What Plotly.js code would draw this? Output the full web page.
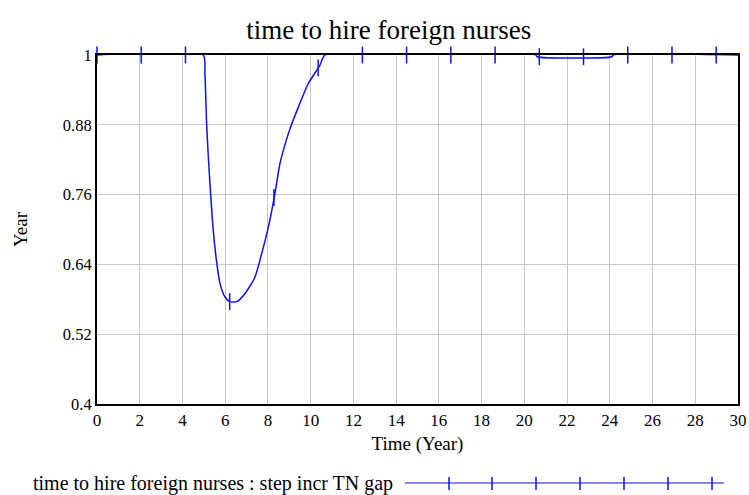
<!DOCTYPE html>
<html>
<head>
<meta charset="utf-8">
<script src="https://cdn.plot.ly/plotly-3.0.1.min.js"></script>
<style>html,body{margin:0;padding:0;background:#fff;}#chart{width:749px;height:495px;}</style>
</head>
<body>
<div id="chart"></div>
<script>
// Series: time to hire foreign nurses : step incr TN gap
const timeYears = [0, 4.97, 5.05, 5.13, 5.21, 5.32, 5.44, 5.6, 5.76, 5.99, 6.22, 6.54, 6.93, 7.39, 7.71, 8.02, 8.33, 8.56, 9.03, 9.42, 9.89, 10.43, 10.67, 20.55, 20.6, 24.1, 24.15, 30];
const hireTime  = [1, 1, 0.968, 0.882, 0.825, 0.76, 0.699, 0.644, 0.607, 0.584, 0.576, 0.576, 0.59, 0.618, 0.659, 0.704, 0.762, 0.813, 0.873, 0.91, 0.951, 0.982, 1, 1, 0.997, 0.997, 1, 1];
// Vensim-style line markers
const markerTimes  = [0, 2.07, 4.14, 6.21, 8.28, 10.35, 12.42, 14.49, 16.56, 18.63, 20.7, 22.77, 24.84, 26.91, 28.98];
const markerValues = [1, 1, 1, 0.576, 0.755, 0.978, 1, 1, 1, 1, 0.997, 0.997, 1, 1, 1];
const xTicks = [0, 2, 4, 6, 8, 10, 12, 14, 16, 18, 20, 22, 24, 26, 28, 30];
const yTicks = [0.4, 0.52, 0.64, 0.76, 0.88, 1];
const yTickLabels = ["0.4", "0.52", "0.64", "0.76", "0.88", "1"];
const legendLabel = "time to hire foreign nurses : step incr TN gap";

const FONT = "Liberation Serif, Times New Roman, serif";
const BLUE = "#1010f0";

const traces = [
  {x: timeYears, y: hireTime, type: "scatter", mode: "lines",
   line: {color: BLUE, width: 1.5, shape: "spline", smoothing: 0.6}, showlegend: false, hoverinfo: "skip"},
  {x: markerTimes, y: markerValues, type: "scatter", mode: "markers",
   marker: {symbol: "line-ns-open", size: 12, color: BLUE, line: {color: BLUE, width: 1.5}},
   showlegend: false, hoverinfo: "skip", cliponaxis: false}
];

// legend drawn below the plot (line with tick markers)
const legendShapes = [{type: "line", xref: "paper", yref: "paper",
  x0: (405-97)/641, x1: (724-97)/641, y0: -(483-404)/349, y1: -(483-404)/349,
  line: {color: BLUE, width: 1}}];
[449, 492, 536, 580, 624, 668, 712].forEach(px => {
  legendShapes.push({type: "line", xref: "paper", yref: "paper",
    x0: (px-97)/641, x1: (px-97)/641, y0: -(477-404)/349, y1: -(490-404)/349,
    line: {color: BLUE, width: 1.5}});
});

const layout = {
  width: 749, height: 495,
  margin: {l: 97, r: 11, t: 55, b: 91},
  paper_bgcolor: "#fff", plot_bgcolor: "#fff",
  font: {family: FONT, size: 16, color: "#000"},
  title: {text: "time to hire foreign nurses", font: {family: FONT, size: 27, color: "#000"},
          x: 0.519, xanchor: "center", y: 0.94, yanchor: "middle"},
  xaxis: {range: [0, 30], tickvals: xTicks, ticktext: xTicks.map(String),
          showgrid: true, gridcolor: "#c8c8c8", gridwidth: 1,
          showline: true, linecolor: "#000", linewidth: 2, mirror: true,
          ticks: "", zeroline: false, tickfont: {family: FONT, size: 17},
          title: {text: "Time (Year)", font: {family: FONT, size: 19}, standoff: 7}},
  yaxis: {range: [0.4, 1], tickvals: yTicks, ticktext: yTickLabels,
          showgrid: true, gridcolor: "#c8c8c8", gridwidth: 1,
          showline: true, linecolor: "#000", linewidth: 2, mirror: true,
          ticks: "", zeroline: false, tickfont: {family: FONT, size: 16.5},
          title: {text: "Year", font: {family: FONT, size: 19}, standoff: 30}},
  shapes: legendShapes,
  annotations: [{xref: "paper", yref: "paper", x: (395-97)/641, y: -(483-404)/349,
    xanchor: "right", yanchor: "middle", showarrow: false, text: legendLabel,
    font: {family: FONT, size: 20, color: "#000"}}]
};

Plotly.newPlot("chart", traces, layout, {staticPlot: true, displayModeBar: false});
</script>
</body>
</html>
